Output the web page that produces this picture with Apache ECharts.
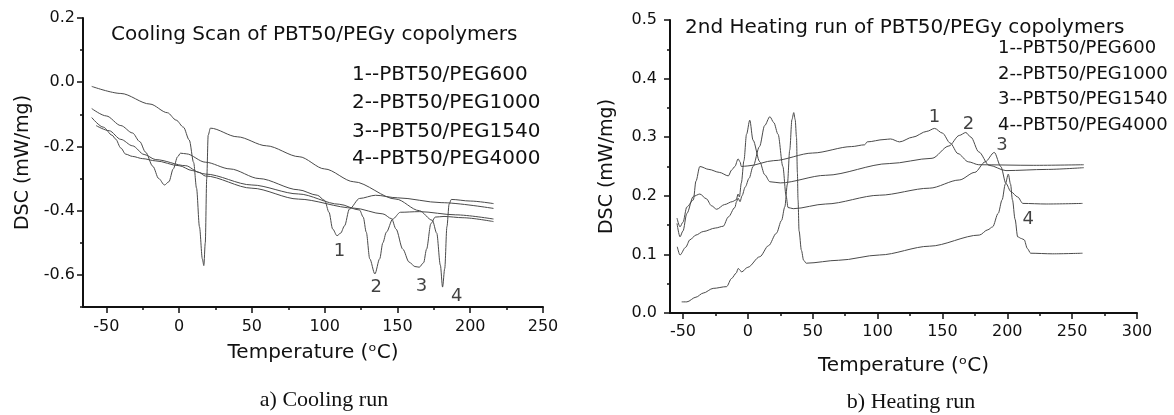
<!DOCTYPE html>
<html>
<head>
<meta charset="utf-8">
<script src="https://cdn.jsdelivr.net/npm/echarts@6/dist/echarts.min.js"></script>
<style>
  html, body { margin: 0; background: #fff; }
  #chart { width: 1174px; height: 415px; }
</style>
</head>
<body>
<div id="chart"></div>
<script>
// ---- cooling scan (a) : [temperature, DSC] ----
const cool1 = [[-60, -0.082], [-50, -0.105], [-40, -0.135], [-32, -0.158], [-27, -0.185], [-23, -0.218], [-18, -0.262], [-14, -0.3], [-10, -0.32], [-7, -0.31], [-4, -0.27], [-1, -0.232], [1, -0.221], [5, -0.223], [18, -0.249], [35, -0.27], [55, -0.3], [82, -0.335], [95, -0.352], [100, -0.368], [103, -0.405], [105.5, -0.457], [108.5, -0.478], [111, -0.47], [113.7, -0.447], [117, -0.395], [124, -0.362], [135, -0.352], [150, -0.36], [180, -0.375], [216, -0.393]]
const cool2 = [[-60, -0.11], [-52, -0.14], [-46, -0.165], [-43.6, -0.177], [-40, -0.205], [-36.7, -0.224], [-32, -0.231], [-25, -0.238], [-16, -0.245], [0, -0.26], [9, -0.275], [18, -0.286], [50, -0.32], [82, -0.348], [110, -0.38], [124, -0.398], [126.5, -0.42], [128.6, -0.467], [131, -0.55], [134.5, -0.597], [137.8, -0.55], [140, -0.5], [142.4, -0.467], [146.8, -0.426], [152, -0.405], [165, -0.403], [190, -0.413], [216, -0.426]]
const cool3 = [[-57, -0.135], [-48, -0.151], [-40, -0.178], [-32, -0.198], [-24, -0.225], [-16, -0.241], [4.6, -0.26], [13.8, -0.281], [18, -0.292], [50, -0.33], [82, -0.364], [120, -0.392], [140, -0.41], [146, -0.425], [149, -0.457], [153.7, -0.52], [158, -0.56], [162, -0.574], [165, -0.576], [168, -0.562], [170, -0.52], [173, -0.44], [176, -0.42], [182, -0.418], [195, -0.422], [216, -0.434]]
const cool4 = [[-60, -0.013], [-40, -0.035], [-20, -0.068], [-8, -0.095], [-2, -0.118], [3, -0.14], [7, -0.18], [10, -0.25], [12, -0.33], [14, -0.45], [16, -0.55], [17, -0.571], [18, -0.5], [19, -0.3], [20, -0.165], [21.5, -0.143], [40, -0.17], [60, -0.198], [82.5, -0.232], [100, -0.27], [120, -0.31], [149, -0.364], [165, -0.4], [174, -0.43], [177, -0.47], [179.5, -0.57], [181, -0.638], [182.5, -0.58], [184, -0.45], [185.5, -0.38], [187, -0.365], [200, -0.37], [216, -0.378]]
const coolPeakLabels = [[110.2, -0.526, '1'], [135.5, -0.638, '2'], [166.5, -0.635, '3'], [190.7, -0.666, '4']]

// ---- 2nd heating run (b) ----
const heat1 = [[-54.6, 0.162], [-52.3, 0.147], [-50, 0.155], [-47, 0.181], [-42, 0.193], [-40, 0.225], [-37, 0.25], [-30, 0.245], [-22, 0.24], [-15, 0.234], [-12.5, 0.244], [-10, 0.25], [-7.5, 0.263], [-6, 0.258], [-5, 0.25], [0, 0.251], [20, 0.26], [50, 0.273], [80, 0.284], [90, 0.287], [92, 0.292], [105, 0.296], [110, 0.297], [117, 0.292], [127, 0.3], [138, 0.31], [144, 0.315], [150, 0.307], [156, 0.29], [162, 0.272], [170, 0.258], [178, 0.253], [220, 0.252], [259, 0.253]]
const heat2 = [[-54.6, 0.153], [-52.3, 0.13], [-50, 0.14], [-47, 0.17], [-42, 0.199], [-37, 0.203], [-32, 0.195], [-28, 0.183], [-24, 0.177], [-18, 0.185], [-12, 0.19], [-9, 0.193], [-7.5, 0.203], [-6.5, 0.198], [-5, 0.222], [-3, 0.26], [-1, 0.305], [1.5, 0.329], [4, 0.295], [9.2, 0.258], [13, 0.236], [17, 0.224], [25, 0.222], [60, 0.235], [109, 0.255], [142, 0.264], [155, 0.285], [163, 0.303], [168, 0.308], [172, 0.3], [178, 0.275], [186, 0.252], [199, 0.243], [230, 0.245], [259, 0.248]]
const heat3 = [[-54.4, 0.113], [-52.3, 0.099], [-48, 0.112], [-44.6, 0.125], [-40, 0.133], [-34.4, 0.139], [-25, 0.145], [-19, 0.148], [-15, 0.164], [-10, 0.18], [-8.7, 0.19], [-7.5, 0.196], [-6, 0.19], [-4.5, 0.2], [-2, 0.215], [1, 0.23], [4, 0.25], [9, 0.284], [13, 0.32], [17, 0.335], [20, 0.325], [23.3, 0.305], [27, 0.25], [29.5, 0.2], [31, 0.18], [35, 0.178], [60, 0.186], [101.5, 0.201], [140, 0.213], [163, 0.227], [175, 0.24], [183, 0.258], [190, 0.274], [195, 0.25], [199, 0.221], [202.8, 0.207], [208, 0.198], [212, 0.187], [230, 0.186], [258, 0.187]]
const heat4 = [[-51, 0.019], [-47, 0.019], [-40, 0.027], [-34.4, 0.034], [-26.7, 0.042], [-16.4, 0.045], [-12.5, 0.059], [-9, 0.068], [-7.4, 0.076], [-5.5, 0.072], [-4.9, 0.07], [0, 0.078], [9.2, 0.096], [16, 0.115], [22, 0.136], [26, 0.158], [28.5, 0.181], [30.5, 0.22], [32.3, 0.278], [34, 0.33], [35.4, 0.342], [36.5, 0.33], [37.5, 0.3], [38.2, 0.24], [38.7, 0.193], [39.5, 0.14], [41.3, 0.107], [43, 0.09], [45, 0.085], [70, 0.09], [101.5, 0.099], [140, 0.114], [178.5, 0.133], [185, 0.142], [188.7, 0.147], [193, 0.17], [196, 0.193], [198.5, 0.22], [200.8, 0.237], [202.5, 0.22], [204, 0.193], [206, 0.16], [208, 0.13], [211, 0.127], [213, 0.125], [215.5, 0.11], [218, 0.102], [235, 0.101], [258, 0.102]]
const heatPeakLabels = [[143.8, 0.334, '1'], [170, 0.3225, '2'], [195.9, 0.2855, '3'], [216.2, 0.16, '4']]

// ---- ticks and texts ----
const coolXTicks = [-50, 0, 50, 100, 150, 200, 250]
const coolXMinor = [-25, 25, 75, 125, 175, 225]
const coolYTicks = [-0.6, -0.4, -0.2, 0, 0.2]
const coolYMinor = [-0.7, -0.5, -0.3, -0.1, 0.1]
const heatXTicks = [-50, 0, 50, 100, 150, 200, 250, 300]
const heatXMinor = [-25, 25, 75, 125, 175, 225, 275]
const heatYTicks = [0, 0.1, 0.2, 0.3, 0.4, 0.5]
const heatYMinor = [0.05, 0.15, 0.25, 0.35, 0.45]
const legendNames = ['1--PBT50/PEG600', '2--PBT50/PEG1000', '3--PBT50/PEG1540', '4--PBT50/PEG4000']
const coolTitle = 'Cooling Scan of PBT50/PEGy copolymers'
const heatTitle = '2nd Heating run of PBT50/PEGy copolymers'

const FONT = 'DejaVu Sans'
const INK = '#111'

const chart = echarts.init(document.getElementById('chart'))

function mainAxis(grid, min, max, ticks, extra) {
  return {
    gridIndex: grid,
    type: 'value',
    min,
    max,
    axisLine: { show: true, onZero: false, lineStyle: { color: INK, width: 2 } },
    axisTick: { customValues: ticks, length: 6, lineStyle: { color: INK, width: 1.5 } },
    splitLine: { show: false },
    ...extra,
  }
}

// second, unlabelled axis on the same side only for the short minor ticks
function minorAxis(grid, min, max, ticks, position) {
  return {
    gridIndex: grid,
    type: 'value',
    min,
    max,
    position,
    axisLine: { show: false, onZero: false },
    axisTick: { show: true, customValues: ticks, length: 3, lineStyle: { color: INK, width: 1.5 } },
    axisLabel: { show: false },
    splitLine: { show: false },
  }
}

function tickLabels(ticks, margin, fmt) {
  return { customValues: ticks, fontSize: 16, color: INK, fontFamily: FONT, margin, formatter: fmt }
}

const xName = {
  name: 'Temperature (ᵒC)',
  nameLocation: 'middle',
  nameTextStyle: { fontSize: 20, color: INK, fontFamily: FONT },
}
const yName = {
  name: 'DSC (mW/mg)',
  nameLocation: 'middle',
  nameTextStyle: { fontSize: 19, color: INK, fontFamily: FONT },
}
const oneDecimal = v => v.toFixed(1)

function curve(data, x, y) {
  return {
    type: 'line',
    data,
    xAxisIndex: x,
    yAxisIndex: y,
    showSymbol: false,
    smooth: 0.3,
    smoothMonotone: 'x',
    lineStyle: { color: '#4a4a4a', width: 1 },
    silent: true,
  }
}

function peakLabels(data, x, y) {
  return {
    type: 'scatter',
    data,
    xAxisIndex: x,
    yAxisIndex: y,
    symbolSize: 0,
    silent: true,
    label: {
      show: true,
      position: 'inside',
      formatter: p => p.value[2],
      fontSize: 18,
      color: INK,
      textBorderWidth: 0,
      fontFamily: FONT,
    },
  }
}

function textAt(text, x, y, size, family, align) {
  return {
    type: 'text',
    x,
    y,
    silent: true,
    style: {
      text,
      fill: INK,
      font: size + 'px "' + family + '"',
      textAlign: align || 'left',
      textVerticalAlign: 'middle',
    },
  }
}

const option = {
  backgroundColor: '#fff',
  animation: false,
  grid: [
    { left: 83, right: 631, top: 18, bottom: 108 },
    { left: 670, right: 37, top: 20, bottom: 102 },
  ],
  xAxis: [
    mainAxis(0, -66, 250, coolXTicks, { position: 'bottom', nameGap: 36, ...xName, axisLabel: tickLabels(coolXTicks, 12) }),
    minorAxis(0, -66, 250, coolXMinor, 'bottom'),
    mainAxis(1, -60, 300, heatXTicks, { position: 'bottom', nameGap: 43, ...xName, axisLabel: tickLabels(heatXTicks, 11) }),
    minorAxis(1, -60, 300, heatXMinor, 'bottom'),
  ],
  yAxis: [
    mainAxis(0, -0.7, 0.2, coolYTicks, { position: 'left', nameGap: 50, ...yName, axisLabel: tickLabels(coolYTicks, 8, oneDecimal) }),
    minorAxis(0, -0.7, 0.2, coolYMinor, 'left'),
    mainAxis(1, 0, 0.5, heatYTicks, { position: 'left', nameGap: 53, ...yName, axisLabel: tickLabels(heatYTicks, 13, oneDecimal) }),
    minorAxis(1, 0, 0.5, heatYMinor, 'left'),
  ],
  series: [
    curve(cool1, 0, 0),
    curve(cool2, 0, 0),
    curve(cool3, 0, 0),
    curve(cool4, 0, 0),
    peakLabels(coolPeakLabels, 0, 0),
    curve(heat1, 2, 2),
    curve(heat2, 2, 2),
    curve(heat3, 2, 2),
    curve(heat4, 2, 2),
    peakLabels(heatPeakLabels, 2, 2),
  ],
  graphic: [
    textAt(coolTitle, 111, 35, 20, FONT),
    ...legendNames.map((t, i) => textAt(t, 352, [75, 103, 132, 159][i], 20, FONT)),
    textAt(heatTitle, 685, 28, 20, FONT),
    ...legendNames.map((t, i) => textAt(t, 998, [48, 74, 99, 125][i], 18, FONT)),
    textAt('a) Cooling run', 324, 400, 22, 'Liberation Serif', 'center'),
    textAt('b) Heating run', 911, 402, 22, 'Liberation Serif', 'center'),
  ],
}

chart.setOption(option)
</script>
</body>
</html>
